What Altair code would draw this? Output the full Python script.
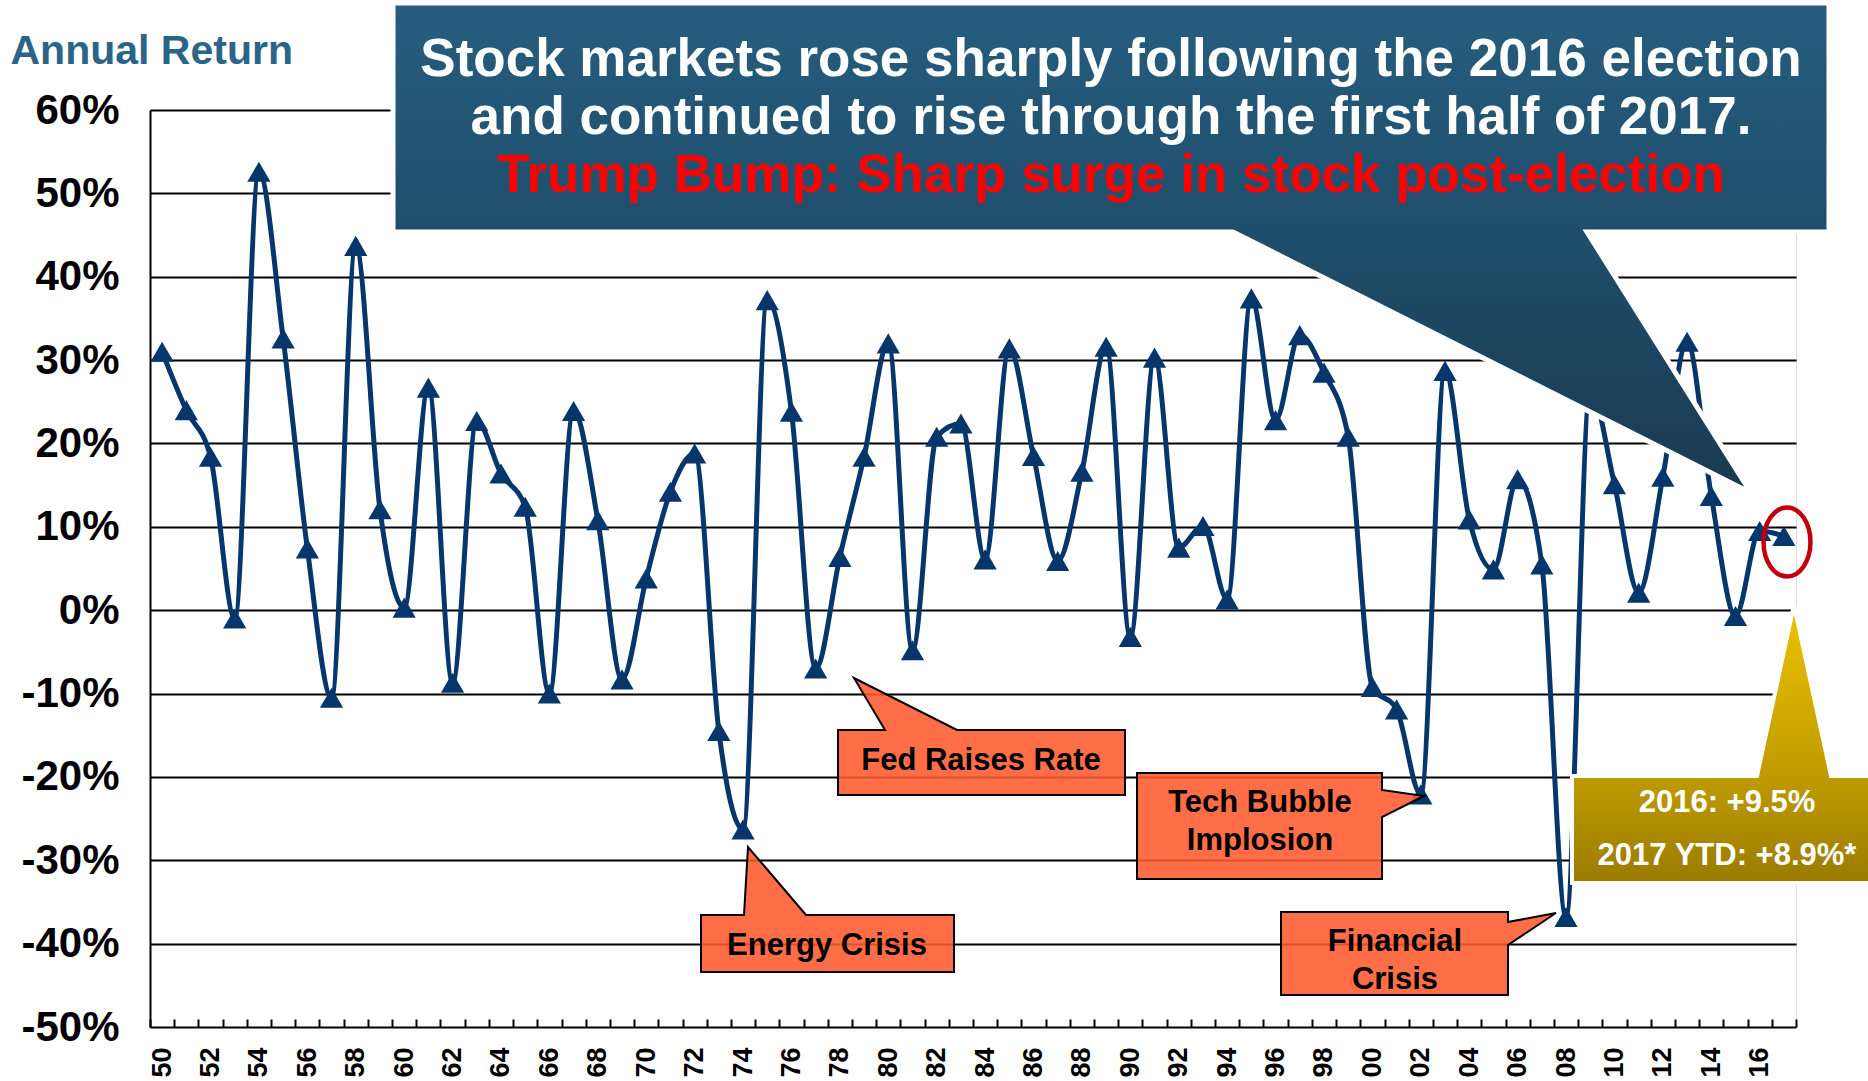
import altair as alt
import pandas as pd

# ---------------- data ----------------
years = list(range(1950, 2018))
returns = [31.0, 24.0, 18.4, -1.0, 52.6, 32.6, 7.4, -10.5, 43.7, 12.1,
           0.3, 26.7, -8.7, 22.7, 16.4, 12.4, -10.0, 23.9, 10.8, -8.3,
           3.8, 14.2, 18.8, -14.5, -26.3, 37.2, 23.8, -7.0, 6.4, 18.4,
           32.0, -4.8, 20.8, 22.4, 6.1, 31.4, 18.5, 5.9, 16.6, 31.6,
           -3.2, 30.3, 7.5, 10.1, 1.3, 37.4, 22.8, 33.0, 28.5, 20.8,
           -9.2, -11.9, -22.1, 28.7, 10.9, 4.9, 15.7, 5.5, -36.8, 26.5,
           15.1, 2.1, 16.0, 32.2, 13.7, -0.7, 9.5, 8.9]
y_ticks = [-50, -40, -30, -20, -10, 0, 10, 20, 30, 40, 50, 60]

title_lines = ["Stock markets rose sharply following the 2016 election",
               "and continued to rise through the first half of 2017."]
title_red = "Trump Bump: Sharp surge in stock post-election"
gold_lines = ["2016: +9.5%", "2017 YTD: +8.9%*"]

df = pd.DataFrame({"year": years, "ret": returns})
one = pd.DataFrame({"k": [0]})

# ---------------- layout ----------------
W, H = 1646, 917
OX, OY = 150, 110
FONT = "Liberation Sans, Arial, Helvetica, sans-serif"
NAVY = "#06366B"


def shape(points):
    """Polygon given in page pixels -> (cx, cy, size, path) for a symbol in view coords."""
    xs = [p[0] - OX for p in points]
    ys = [p[1] - OY for p in points]
    cx = (min(xs) + max(xs)) / 2
    cy = (min(ys) + max(ys)) / 2
    r = max(max(xs) - min(xs), max(ys) - min(ys)) / 2
    path = "M" + " L".join(f"{(x - cx) / r:.5f},{(y - cy) / r:.5f}" for x, y in zip(xs, ys)) + " Z"
    return cx, cy, (2 * r) ** 2, path


def poly_layer(points, fill, stroke, stroke_width, fill_opacity=1.0):
    cx, cy, size, path = shape(points)
    return alt.Chart(one).mark_point(
        shape=path, filled=True, fill=fill, stroke=stroke, strokeWidth=stroke_width,
        size=size, opacity=1, fillOpacity=fill_opacity, strokeOpacity=1
    ).encode(x=alt.value(cx), y=alt.value(cy))


def text_layer(txt, x, y, size, color, align="center"):
    return alt.Chart(one).mark_text(
        text=txt, font=FONT, fontWeight="bold", fontSize=size, color=color,
        align=align, baseline="alphabetic"
    ).encode(x=alt.value(x - OX), y=alt.value(y - OY))


x_enc = alt.X(
    "year:O",
    bandPosition=0.5,
    scale=alt.Scale(type="band", paddingInner=0, paddingOuter=0),
    axis=alt.Axis(
        title=None, grid=False, domain=False,
        labelExpr="datum.value % 2 == 0 ? slice(toString(datum.value), 2) : ''",
        labelAngle=270, labelOverlap=False, labelFont=FONT, labelFontWeight="bold",
        labelFontSize=27, labelColor="black", labelPadding=20,
        tickBand="extent", offset=-8, tickSize=8, tickWidth=2, tickColor="black",
    ),
)
y_enc = alt.Y(
    "ret:Q",
    scale=alt.Scale(domain=[-50, 60], nice=False, zero=False),
    axis=alt.Axis(
        values=y_ticks, labelExpr="datum.value + '%'",
        labelFont=FONT, labelFontWeight="bold", labelFontSize=42, labelColor="black",
        labelPadding=31, ticks=False,
        domainColor="black", domainWidth=2,
        grid=True, gridColor="black", gridWidth=2, gridOpacity=1,
        title="Annual Return", titleAngle=0, titleX=-140, titleY=-47,
        titleAlign="left", titleBaseline="alphabetic", titleFont=FONT,
        titleFontWeight="bold", titleFontSize=41, titleColor="#2A6488",
    ),
)

line = alt.Chart(df).mark_line(interpolate="monotone", strokeWidth=5, color=NAVY).encode(x=x_enc, y=y_enc)
pts = alt.Chart(df).mark_point(shape="triangle-up", filled=True, size=540, color=NAVY, opacity=1).encode(x=x_enc, y=y_enc)

blue_grad = alt.Gradient(
    gradient="linear", x1=0, x2=0, y1=0, y2=1,
    stops=[alt.GradientStop(offset=0, color="#265D7E"),
           alt.GradientStop(offset=0.47, color="#1F4E6C"),
           alt.GradientStop(offset=1, color="#1A3A50")],
)
gold_grad = alt.Gradient(
    gradient="linear", x1=0, x2=0, y1=0, y2=1,
    stops=[alt.GradientStop(offset=0, color="#EDC200"),
           alt.GradientStop(offset=0.615, color="#BF9B00"),
           alt.GradientStop(offset=1, color="#9A7B00")],
)
ORANGE = "#FF5A2C"

blue = poly_layer([(393, 3), (1829, 3), (1829, 232), (1587, 232), (1751, 493), (1233, 232), (393, 232)],
                  blue_grad, "white", 5)
gold = poly_layer([(1572, 776), (1757, 776), (1794, 605), (1831, 776), (1890, 776), (1890, 883), (1572, 883)],
                  gold_grad, "white", 4)
fed = poly_layer([(838, 730), (885, 730), (854, 678), (957, 730), (1125, 730), (1125, 795), (838, 795)],
                 ORANGE, "black", 2, 0.88)
energy = poly_layer([(701, 915), (744, 915), (748, 847), (806, 915), (954, 915), (954, 972), (701, 972)],
                    ORANGE, "black", 2, 0.88)
tech = poly_layer([(1137, 773), (1382, 773), (1382, 790), (1424, 796), (1382, 817), (1382, 879), (1137, 879)],
                  ORANGE, "black", 2, 0.88)
fin = poly_layer([(1281, 912), (1508, 912), (1508, 922), (1556, 913), (1508, 945), (1508, 995), (1281, 995)],
                 ORANGE, "black", 2, 0.88)

ellipse = alt.Chart(one).mark_point(
    shape="M -0.68 0 A 0.68 1 0 1 0 0.68 0 A 0.68 1 0 1 0 -0.68 0 Z",
    filled=False, stroke="#C00010", strokeWidth=4.5, size=69 ** 2, opacity=1
).encode(x=alt.value(1787 - OX), y=alt.value(542 - OY))

texts = [
    text_layer(title_lines[0], 1111, 76, 53, "white"),
    text_layer(title_lines[1], 1111, 134, 53, "white"),
    text_layer(title_red, 1111, 192, 53, "#FF0000"),
    text_layer("Fed Raises Rate", 981, 770, 31, "black"),
    text_layer("Energy Crisis", 827, 955, 31, "black"),
    text_layer("Tech Bubble", 1260, 812, 31, "black"),
    text_layer("Implosion", 1260, 850, 31, "black"),
    text_layer("Financial", 1395, 951, 31, "black"),
    text_layer("Crisis", 1395, 989, 31, "black"),
    text_layer(gold_lines[0], 1727, 812, 31, "white"),
    text_layer(gold_lines[1], 1727, 865, 31, "white"),
]

chart = alt.layer(line, pts, blue, gold, fed, energy, tech, fin, ellipse, *texts).properties(
    width=W, height=H,
    autosize=alt.AutoSizeParams(type="none"),
    padding={"left": OX, "top": OY, "right": 1868 - OX - W, "bottom": 1081 - OY - H},
).configure_view(stroke=None).configure(background="white")

chart.save("out.html", embed_options={"renderer": "svg", "actions": False})
